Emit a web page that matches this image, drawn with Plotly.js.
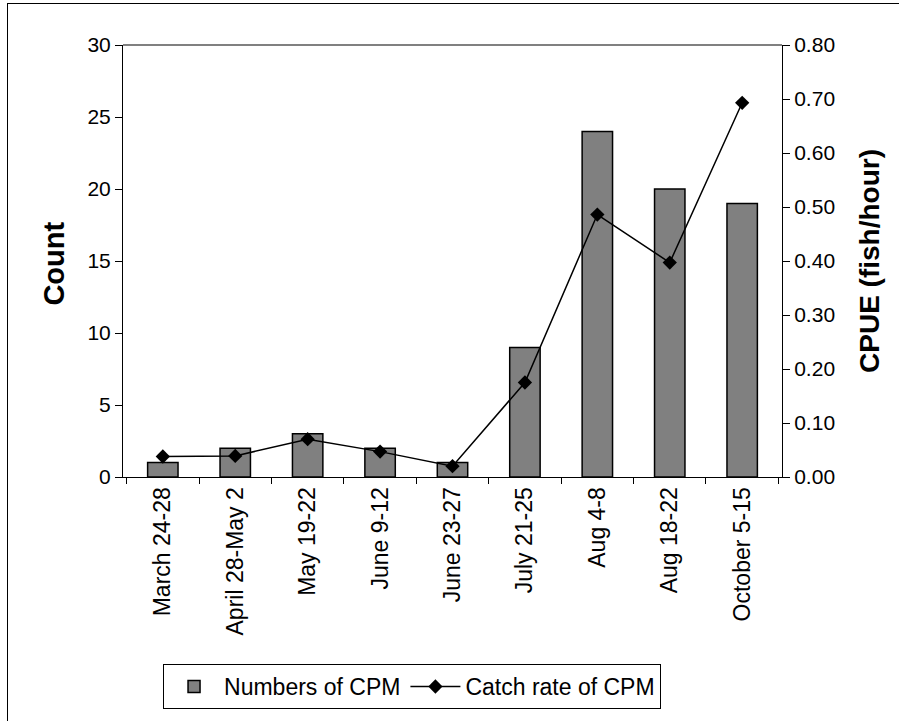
<!DOCTYPE html>
<html>
<head>
<meta charset="utf-8">
<script src="https://cdn.plot.ly/plotly-3.0.1.min.js"></script>
<style>
html,body{margin:0;padding:0;background:#fff;}
#wrap{position:absolute;left:0;top:0;width:899px;height:721px;}
#frame{position:absolute;left:7px;top:3px;width:892px;height:718px;border-left:1.5px solid #000;border-top:1.5px solid #000;pointer-events:none;}
#chart{position:absolute;left:0;top:0;width:899px;height:721px;}
</style>
</head>
<body>
<div id="wrap"><div id="chart"></div><div id="frame"></div></div>
<script>
const categories = ["March 24-28","April 28-May 2","May 19-22","June 9-12","June 23-27","July 21-25","Aug 4-8","Aug 18-22","October 5-15"];
const counts = [1,2,3,2,1,9,24,20,19];
const cpue = [0.038,0.039,0.070,0.047,0.020,0.175,0.486,0.397,0.693];
const countTicks = [0,5,10,15,20,25,30];
const cpueTicks = [0,0.1,0.2,0.3,0.4,0.5,0.6,0.7,0.8];
const leftTitle = "Count";
const rightTitle = "CPUE (fish/hour)";

const font = "Liberation Sans, Arial, sans-serif";

const traces = [
  {type:"bar", x:categories, y:counts, name:"Numbers of CPM",
   marker:{color:"#808080", line:{color:"#000", width:1.5}}, yaxis:"y"},
  {type:"scatter", mode:"lines+markers", x:categories, y:cpue, name:"Catch rate of CPM",
   line:{color:"#000", width:1.5}, marker:{symbol:"diamond", size:11, color:"#000"}, yaxis:"y2"}
];

const layout = {
  width:899, height:721,
  margin:{l:123, r:117, t:45, b:244},
  paper_bgcolor:"#fff", plot_bgcolor:"#fff",
  font:{family:font, size:20, color:"#000"},
  showlegend:true,
  bargap:0.58,
  xaxis:{type:"category", tickson:"boundaries", ticks:"outside", ticklen:6, tickcolor:"#000",
    showline:true, linecolor:"#000", linewidth:1, tickangle:-90, tickfont:{size:23, family:font},
    showgrid:false, zeroline:false},
  yaxis:{range:[0,30], tickvals:countTicks, ticks:"outside", ticklen:7, tickcolor:"#000",
    showline:true, linecolor:"#000", linewidth:1, showgrid:false, zeroline:false,
    tickfont:{size:21, family:font}},
  yaxis2:{range:[0,0.8], tickvals:cpueTicks, tickformat:".2f", overlaying:"y", side:"right",
    ticks:"outside", ticklen:7, tickcolor:"#000", showline:true, linecolor:"#000", linewidth:1,
    showgrid:false, zeroline:false, tickfont:{size:21, family:font}},
  annotations:[
    {text:"<b>"+leftTitle+"</b>", xref:"paper", yref:"paper", x:-0.1047, y:0.494, textangle:-90,
     xanchor:"center", yanchor:"middle", showarrow:false, font:{size:29, family:font}},
    {text:"<b>"+rightTitle+"</b>", xref:"paper", yref:"paper", x:1.132, y:0.5, textangle:-90,
     xanchor:"center", yanchor:"middle", showarrow:false, font:{size:28, family:font}}
  ],
  legend:{orientation:"h", x:0.4386, xanchor:"center", y:-0.433, yanchor:"top",
    bordercolor:"#000", borderwidth:1, font:{size:23, family:font}, bgcolor:"#fff",
    itemwidth:50},
  shapes:[{type:"line", xref:"paper", yref:"paper", x0:0, x1:1, y0:1, y1:1,
    line:{color:"#808080", width:2}}]
};

Plotly.newPlot("chart", traces, layout, {displayModeBar:false, staticPlot:true});
</script>
</body>
</html>
